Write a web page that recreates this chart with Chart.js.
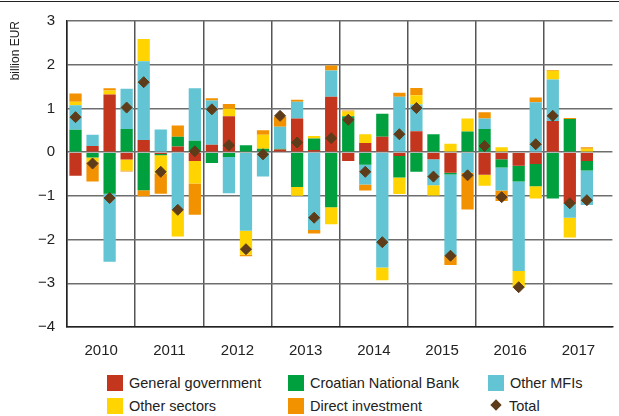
<!DOCTYPE html>
<html>
<head>
<meta charset="utf-8">
<script src="https://cdn.jsdelivr.net/npm/chart.js@4"></script>
<style>
	body { margin: 0; background: #fff; }
	#wrap { position: relative; width: 619px; height: 416px; }
	#linha_topo { position: absolute; left: 0; top: 1px; width: 619px; height: 0; border-top: 1px solid #222; }
	#box_grafico { position: absolute; left: 0; top: 0; width: 619px; height: 364px; }
	.legenda { position: absolute; font-family: "Liberation Sans", Arial, sans-serif; font-size: 14.5px; color: #222; line-height: 18px; white-space: nowrap; }
	.legenda span.cor { display: inline-block; width: 16px; height: 16px; vertical-align: -3px; margin-right: 6px; }
	.legenda span.losango { display: inline-block; width: 8px; height: 8px; transform: rotate(45deg); margin: 0 9px 1px 4px; vertical-align: 1px; }
</style>
</head>
<body>
<div id="wrap">
	<div id="linha_topo"></div>
	<div id="box_grafico"><canvas id="grafico"></canvas></div>
</div>
<script>
var anos = ["2010", "2011", "2012", "2013", "2014", "2015", "2016", "2017"];

// valores trimestrais, 2010 T1 ate 2017 T3 (bilhoes EUR)
var governo = [-0.54, 0.14, 1.32, -0.17, 0.28, -0.04, 0.13, -0.20, 0.17, 0.82, 0, 0, 0.06, 0.77, 0.05, 1.27,
	-0.20, 0.21, 0.35, -0.09, 0.48, -0.16, -0.47, 0, -0.52, -0.16, -0.31, -0.27, 0.71, -1.18, -0.20];
var bancoCentral = [0.51, -0.12, -0.95, 0.53, -0.87, -0.03, 0.22, 0.26, -0.25, -0.11, 0.16, 0.08, 0.02, -0.80, 0.26, -1.26,
	0.82, -0.29, 0.53, -0.49, -0.45, 0.41, -0.04, 0.47, 0.53, -0.19, -0.36, -0.51, -1.06, 0.76, -0.22];
var outrasIFM = [0.56, 0.26, -1.56, 0.92, 1.80, 0.52, -1.31, 1.20, 1.01, -0.83, -1.80, -0.56, 0.50, 0.38, -1.78, 0.60,
	0, -0.45, -2.64, 1.27, 0.61, -0.60, -1.86, -0.47, 0.24, -0.53, -2.05, 1.14, 0.95, -0.32, -0.79];
var outrosSetores = [0.08, -0.10, 0.09, -0.25, 0.51, -0.43, -0.62, -0.52, 0, 0.17, -0.55, 0.32, 0, -0.20, 0.06, -0.39,
	0.11, 0.20, -0.29, -0.38, 0.21, -0.23, 0.19, 0.30, -0.25, 0.11, -0.37, -0.28, 0.20, -0.45, 0.08];
var investDireto = [0.19, -0.45, 0.05, -0.02, -0.14, -0.45, 0.26, -0.71, 0.05, 0.11, -0.03, 0.10, 0.23, 0.05, -0.08, 0.11,
	0.02, -0.14, 0, 0.09, 0.17, 0, -0.21, -0.84, 0.14, -0.24, 0, 0.11, 0.02, 0.02, 0.03];
var total = [0.80, -0.26, -1.05, 1.02, 1.60, -0.45, -1.32, 0.02, 0.98, 0.16, -2.22, -0.05, 0.83, 0.22, -1.50, 0.32,
	0.74, -0.45, -2.06, 0.41, 1.01, -0.56, -2.37, -0.53, 0.14, -1.03, -3.09, 0.18, 0.83, -1.17, -1.10];

var fonte = '"Liberation Sans", Arial, sans-serif';

// um rotulo por trimestre (2017 T4 fica vazio)
var trimestres = [];
anos.forEach(function (ano) {
	for (var t = 1; t <= 4; t++) {
		trimestres.push(ano + " T" + t);
	}
});

var series = [
	{ label: "General government", data: governo, cor: "#c4351d" },
	{ label: "Croatian National Bank", data: bancoCentral, cor: "#00a03f" },
	{ label: "Other MFIs", data: outrasIFM, cor: "#63c4d3" },
	{ label: "Other sectors", data: outrosSetores, cor: "#ffd400" },
	{ label: "Direct investment", data: investDireto, cor: "#f39200" },
];

var datasets = series.map(function (s) {
	return {
		type: "bar",
		label: s.label,
		data: s.data,
		backgroundColor: s.cor,
		borderWidth: 0,
		barPercentage: 0.72,
		categoryPercentage: 1,
		order: 1,
	};
});
datasets.push({
	type: "line",
	label: "Total",
	data: total,
	stack: "total",
	showLine: false,
	pointStyle: "rectRot",
	pointRadius: 5.5,
	pointBackgroundColor: "#5e3c19",
	pointBorderColor: "#5e3c19",
	pointBorderWidth: 1,
	order: 0,
});

var config = {
	type: "bar",
	data: { labels: trimestres, datasets: datasets },
	options: {
		responsive: true,
		maintainAspectRatio: false,
		animation: false,
		layout: { padding: { top: 18, right: 0, left: 8, bottom: 0 } },
		plugins: {
			legend: { display: false },
			tooltip: { enabled: false },
		},
		scales: {
			x: {
				stacked: true,
				z: 1,
				grid: {
					offset: true,
					drawTicks: false,
					lineWidth: 1.5,
					color: function (ctx) {
						return ctx.index % 4 === 0 ? "#555" : "rgba(0,0,0,0)";
					},
				},
				border: { color: "#222", width: 1.5 },
				ticks: {
					autoSkip: false,
					maxRotation: 0,
					labelOffset: 8.6,
					padding: 15,
					color: "#222",
					font: { family: fonte, size: 15 },
					callback: function (valor, i) {
						return i % 4 === 1 ? anos[Math.floor(i / 4)] : "";
					},
				},
				afterFit: function (scale) {
					scale.height = 37;
				},
			},
			y: {
				stacked: true,
				z: 1,
				min: -4,
				max: 3,
				grid: { color: "#6e6e6e", lineWidth: 1.5, drawTicks: false },
				border: { color: "#222", width: 1.5 },
				ticks: {
					stepSize: 1,
					padding: 12,
					color: "#222",
					font: { family: fonte, size: 15 },
					callback: function (valor) {
						return valor < 0 ? "\u2212" + Math.abs(valor) : valor;
					},
				},
				title: {
					display: true,
					text: "billion EUR",
					align: "end",
					color: "#222",
					font: { family: fonte, size: 12 },
					padding: { top: 0, bottom: 0 },
				},
				afterFit: function (scale) {
					scale.width = 59;
				},
			},
		},
	},
};

var meuGrafico = new Chart(document.getElementById("grafico"), config);

// legenda em tres colunas, montada a partir das series
var wrap = document.getElementById("wrap");
var posicoes = [[107, 374], [288, 374], [488, 374], [107, 397], [288, 397], [488, 397]];
series.forEach(function (s, i) {
	var item = document.createElement("div");
	item.className = "legenda";
	item.style.left = posicoes[i][0] + "px";
	item.style.top = posicoes[i][1] + "px";
	item.innerHTML = '<span class="cor" style="background:' + s.cor + '"></span>' + s.label;
	wrap.appendChild(item);
});
var itemTotal = document.createElement("div");
itemTotal.className = "legenda";
itemTotal.style.left = posicoes[5][0] + "px";
itemTotal.style.top = posicoes[5][1] + "px";
itemTotal.innerHTML = '<span class="losango" style="background:#5e3c19"></span>Total';
wrap.appendChild(itemTotal);
</script>
</body>
</html>
